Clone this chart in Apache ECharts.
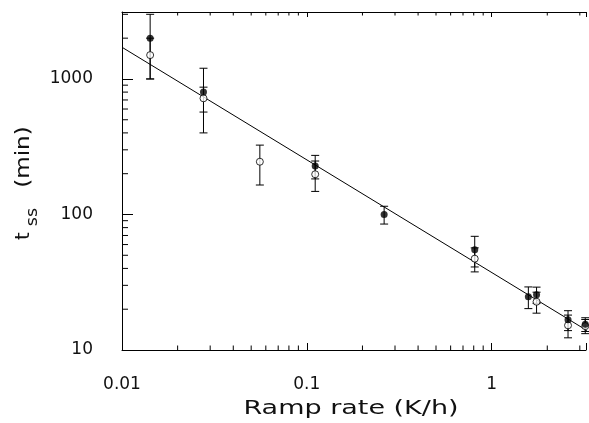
<!DOCTYPE html>
<html><head><meta charset="utf-8">
<script src="https://cdn.jsdelivr.net/npm/echarts@6/dist/echarts.min.js"></script>
<style>html,body{margin:0;padding:0;background:#fff;overflow:hidden;} #c{width:589px;height:423px;}</style>
</head><body><div id="c"></div>
<script>
// ---- data ----
const xTickLabels = ['0.01', '0.1', '1'];
const yTickLabels = ['10', '100', '1000'];
const xAxisTitle = 'Ramp rate (K/h)';

const filledRate = [0.0142, 0.0276, 0.111, 0.262, 0.81, 1.58, 1.75, 2.59, 3.21];
const filledTss  = [2000, 800, 228, 100, 55, 24.7, 25.6, 16.7, 15.5];
const filledErr  = [1000, 400, 45, 15, 14, 4.5, 3.5, 2.8, 1.8];

const openRate = [0.0142, 0.0276, 0.0557, 0.111, 0.81, 1.75, 2.59, 3.21];
const openTss  = [1500, 720, 245, 198, 47.2, 22.7, 15.2, 15.0];
const openErr  = [500, 150, 80, 50, 9.5, 4, 2.9, 1.8];

const fitRate = [0.01, 4];
const fitTss  = [1714, 11.8];

// visible axis range (the reference is cropped at the right edge)
const X_MIN = 0.01, X_MAX = 3.24, Y_MIN = 10, Y_MAX = 3120;

// minor tick positions (2..9 within each decade)
const xMinor = [], yMinor = [];
[0.01, 0.1, 1].forEach(d => { for (let k = 2; k <= 9; k++) if (d * k < X_MAX) xMinor.push(d * k); });
[10, 100, 1000].forEach(d => { for (let k = 2; k <= 9; k++) if (d * k < Y_MAX) yMinor.push(d * k); });

const FONT = '"DejaVu Sans", sans-serif';
const isPow10 = v => Math.abs(Math.log10(v) - Math.round(Math.log10(v))) < 1e-6;

function fmtX(v) {
  if (!isPow10(v)) return '';
  const s = String(+v.toPrecision(6));
  return xTickLabels.includes(s) ? s : '';
}
function fmtY(v) {
  if (!isPow10(v)) return '';
  const s = String(Math.round(v));
  return yTickLabels.includes(s) ? s : '';
}

function errRender(params, api) {
  const x = api.value(0), lo = api.value(1), hi = api.value(2);
  const a = api.coord([x, lo]), b = api.coord([x, hi]);
  const w = 4, st = { stroke: '#000', lineWidth: 1 };
  return { type: 'group', children: [
    { type: 'line', shape: { x1: a[0], y1: a[1], x2: b[0], y2: b[1] }, style: st },
    { type: 'line', shape: { x1: a[0] - w, y1: a[1], x2: a[0] + w, y2: a[1] }, style: st },
    { type: 'line', shape: { x1: b[0] - w, y1: b[1], x2: b[0] + w, y2: b[1] }, style: st }
  ]};
}
function xMinorRender(params, api) {
  const v = api.value(0);
  const b = api.coord([v, Y_MIN]), t = api.coord([v, Y_MAX]);
  const st = { stroke: '#000', lineWidth: 1 };
  return { type: 'group', children: [
    { type: 'line', shape: { x1: b[0], y1: b[1], x2: b[0], y2: b[1] - 4.5 }, style: st },
    { type: 'line', shape: { x1: t[0], y1: t[1], x2: t[0], y2: t[1] + 3.5 }, style: st }
  ]};
}
function yMinorRender(params, api) {
  const v = api.value(1);
  const l = api.coord([X_MIN, v]);
  return { type: 'line', shape: { x1: l[0], y1: l[1], x2: l[0] + 6, y2: l[1] },
           style: { stroke: '#000', lineWidth: 1 } };
}

const errFilled = filledRate.map((x, i) => [x, filledTss[i] - filledErr[i], filledTss[i] + filledErr[i]]);
const errOpen = openRate.map((x, i) => [x, openTss[i] - openErr[i], openTss[i] + openErr[i]]);

const axLine = { show: true, lineStyle: { color: '#000', width: 1 } };

const chart = echarts.init(document.getElementById('c'), null, { renderer: 'canvas' });
chart.setOption({
  animation: false,
  backgroundColor: '#fff',
  grid: { left: 122, right: 0, top: 12, bottom: 73, containLabel: false },
  xAxis: [
    { type: 'log', logBase: 10, min: X_MIN, max: X_MAX, position: 'bottom',
      axisLine: axLine, splitLine: { show: false },
      axisTick: { show: true, inside: true, length: 7, lineStyle: { color: '#000' },
                  interval: (i, v) => isPow10(+v) },
      axisLabel: { formatter: fmtX, margin: 26, color: '#111', fontFamily: FONT, fontSize: 17 } },
    { type: 'log', logBase: 10, min: X_MIN, max: X_MAX, position: 'top',
      axisLine: axLine, splitLine: { show: false },
      axisTick: { show: true, inside: true, length: 5, lineStyle: { color: '#000' },
                  interval: (i, v) => isPow10(+v) },
      axisLabel: { show: false } }
  ],
  yAxis: [
    { type: 'log', logBase: 10, min: Y_MIN, max: Y_MAX, position: 'left',
      axisLine: axLine, splitLine: { show: false },
      axisTick: { show: true, inside: true, length: 11, lineStyle: { color: '#000' },
                  interval: (i, v) => isPow10(+v) },
      axisLabel: { formatter: fmtY, margin: 29, color: '#111', fontFamily: FONT, fontSize: 17 } }
  ],
  series: [
    { type: 'line', xAxisIndex: 0, yAxisIndex: 0, data: fitRate.map((x, i) => [x, fitTss[i]]),
      symbol: 'none', lineStyle: { color: '#000', width: 1 }, z: 2, silent: true },
    { type: 'custom', xAxisIndex: 0, yAxisIndex: 0, renderItem: errRender, data: errFilled,
      encode: { x: 0, y: [1, 2] }, z: 3 },
    { type: 'custom', xAxisIndex: 0, yAxisIndex: 0, renderItem: errRender, data: errOpen,
      encode: { x: 0, y: [1, 2] }, z: 3 },
    { type: 'scatter', xAxisIndex: 0, yAxisIndex: 0, data: openRate.map((x, i) => [x, openTss[i]]),
      symbol: 'circle', symbolSize: 7, clip: false,
      itemStyle: { color: '#fff', borderColor: '#000', borderWidth: 1 }, z: 4 },
    { type: 'scatter', xAxisIndex: 0, yAxisIndex: 0, data: filledRate.map((x, i) => [x, filledTss[i]]),
      symbol: 'circle', symbolSize: 7, clip: false, itemStyle: { color: '#000' }, z: 5 },
    { type: 'custom', xAxisIndex: 0, yAxisIndex: 0, renderItem: xMinorRender,
      data: xMinor.map(v => [v, Y_MIN]), encode: { x: 0, y: 1 }, z: 6, silent: true },
    { type: 'custom', xAxisIndex: 0, yAxisIndex: 0, renderItem: yMinorRender,
      data: yMinor.map(v => [X_MIN, v]), encode: { x: 0, y: 1 }, z: 6, silent: true }
  ],
  graphic: [
    { type: 'text', x: 351, y: 409, scaleX: 1.35,
      style: { text: xAxisTitle, font: '20px ' + FONT, fill: '#111', align: 'center', verticalAlign: 'middle' } },
    { type: 'text', x: 24, y: 157, rotation: Math.PI / 2, scaleX: 1.15,
      style: { text: '(min)', font: '20px ' + FONT, fill: '#111', align: 'center', verticalAlign: 'middle' } },
    { type: 'text', x: 24, y: 236, rotation: Math.PI / 2,
      style: { text: 't', font: '20px ' + FONT, fill: '#111', align: 'center', verticalAlign: 'middle' } },
    { type: 'text', x: 33, y: 217, rotation: Math.PI / 2, scaleX: 1.1,
      style: { text: 'ss', font: '16px ' + FONT, fill: '#111', align: 'center', verticalAlign: 'middle' } }
  ]
});
</script>
</body></html>
